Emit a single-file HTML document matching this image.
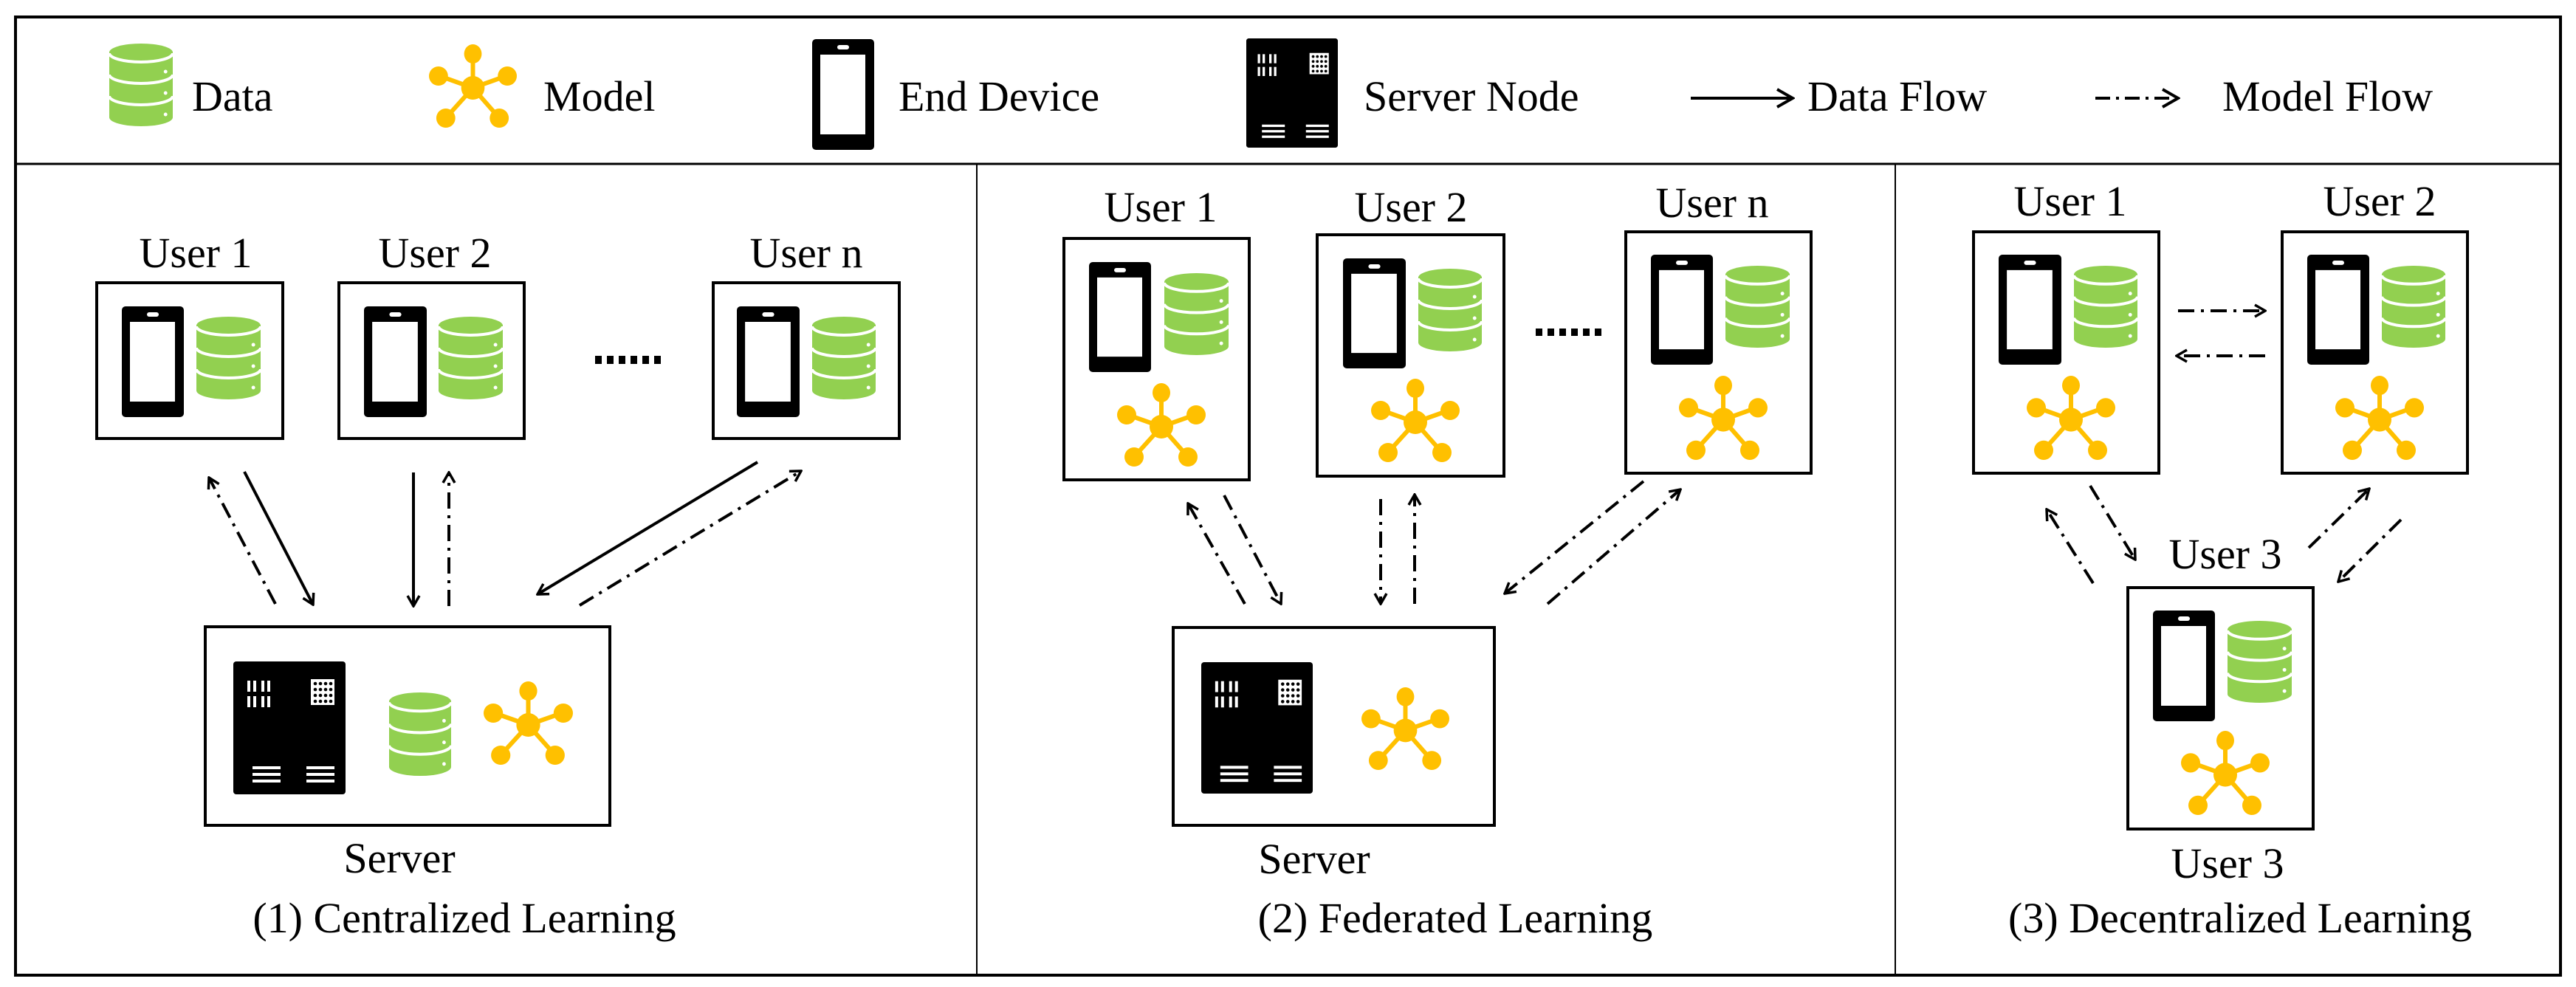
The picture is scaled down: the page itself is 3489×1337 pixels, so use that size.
<!DOCTYPE html>
<html><head><meta charset="utf-8"><style>
html,body{margin:0;padding:0;background:#fff}
svg{display:block}
svg text{font-family:"Liberation Serif","Times New Roman",serif !important;font-size:58px;fill:#000}
</style></head><body>
<svg width="3489" height="1337" viewBox="0 0 3489 1337" xmlns="http://www.w3.org/2000/svg" font-family="Liberation Serif, Times New Roman, serif">
<defs>
<symbol id="phone" viewBox="0 0 84 150" preserveAspectRatio="none">
<rect x="0" y="0" width="84" height="150" rx="5" fill="#000"/>
<rect x="11" y="21" width="61" height="108" fill="#fff"/>
<rect x="34" y="8" width="16" height="6" rx="3" fill="#fff"/>
</symbol>
<symbol id="db" viewBox="0 0 88 112" preserveAspectRatio="none">
<path d="M0 12 A44 12 0 0 1 88 12 L88 100 A44 12 0 0 1 0 100 Z" fill="#92D050"/>
<path d="M0 13 A44 12 0 0 0 88 13 M0 42 A44 12 0 0 0 88 42 M0 71 A44 12 0 0 0 88 71" fill="none" stroke="#fff" stroke-width="4"/>
<circle cx="78" cy="38" r="2.5" fill="#fff"/><circle cx="78" cy="67" r="2.5" fill="#fff"/><circle cx="78" cy="96" r="2.5" fill="#fff"/>
</symbol>
<symbol id="model" viewBox="0 0 120 115" preserveAspectRatio="none">
<g stroke="#FFC000" stroke-width="6">
<line x1="60" y1="60" x2="60" y2="13"/><line x1="60" y1="60" x2="12" y2="43"/><line x1="60" y1="60" x2="108" y2="43"/>
<line x1="60" y1="60" x2="22" y2="102"/><line x1="60" y1="60" x2="97" y2="102"/></g>
<g fill="#FFC000">
<circle cx="60" cy="60" r="16"/>
<ellipse cx="60" cy="14" rx="12" ry="13"/><ellipse cx="13" cy="44" rx="13" ry="13"/><ellipse cx="107" cy="44" rx="13" ry="13"/>
<ellipse cx="23" cy="101" rx="13" ry="13"/><ellipse cx="96" cy="101" rx="13" ry="13"/></g>
</symbol>
<symbol id="server" viewBox="0 0 152 180" preserveAspectRatio="none">
<rect x="0" y="0" width="152" height="180" rx="4" fill="#000"/>
<g fill="#fff">
<rect x="19" y="26" width="4" height="15"/><rect x="27" y="26" width="4" height="15"/><rect x="38" y="26" width="4" height="15"/><rect x="46" y="26" width="4" height="15"/>
<rect x="19" y="47" width="4" height="15"/><rect x="27" y="47" width="4" height="15"/><rect x="38" y="47" width="4" height="15"/><rect x="46" y="47" width="4" height="15"/>
<rect x="105" y="24" width="32" height="35"/>
<rect x="26" y="142" width="38" height="4"/><rect x="26" y="151" width="38" height="4"/><rect x="26" y="160" width="38" height="4"/>
<rect x="99" y="142" width="38" height="4"/><rect x="99" y="151" width="38" height="4"/><rect x="99" y="160" width="38" height="4"/>
</g>
<g fill="#000">
<circle cx="111" cy="30" r="2.3"/><circle cx="118" cy="30" r="2.3"/><circle cx="125" cy="30" r="2.3"/><circle cx="132" cy="30" r="2.3"/>
<circle cx="111" cy="38" r="2.3"/><circle cx="118" cy="38" r="2.3"/><circle cx="125" cy="38" r="2.3"/><circle cx="132" cy="38" r="2.3"/>
<circle cx="111" cy="46" r="2.3"/><circle cx="118" cy="46" r="2.3"/><circle cx="125" cy="46" r="2.3"/><circle cx="132" cy="46" r="2.3"/>
<circle cx="111" cy="54" r="2.3"/><circle cx="118" cy="54" r="2.3"/><circle cx="125" cy="54" r="2.3"/><circle cx="132" cy="54" r="2.3"/>
</g>
</symbol>
<marker id="ah" viewBox="0 0 20 20" refX="18" refY="10" markerWidth="20" markerHeight="20" markerUnits="userSpaceOnUse" orient="auto">
<path d="M4 2 L18 10 L4 18" fill="none" stroke="#000" stroke-width="3.5"/>
</marker>
<marker id="ahb" viewBox="0 0 30 30" refX="27" refY="15" markerWidth="30" markerHeight="30" markerUnits="userSpaceOnUse" orient="auto">
<path d="M6 3 L27 15 L6 27" fill="none" stroke="#000" stroke-width="4"/>
</marker>
</defs>

<rect x="21" y="23" width="3447" height="1298" fill="none" stroke="#000" stroke-width="4"/>
<line x1="21" y1="222" x2="3468" y2="222" stroke="#000" stroke-width="3"/>
<line x1="1323" y1="222" x2="1323" y2="1321" stroke="#000" stroke-width="2"/>
<line x1="2567" y1="222" x2="2567" y2="1321" stroke="#000" stroke-width="2"/>

<g font-family="Liberation Serif, Times New Roman, serif">
<use href="#db" x="148" y="59" width="86" height="112"/>
<text x="260" y="150" font-family="Liberation Serif, serif">Data</text>
<use href="#model" x="581" y="59" width="119" height="115"/>
<text x="736" y="150" font-family="Liberation Serif, serif">Model</text>
<use href="#phone" x="1100" y="53" width="84" height="150"/>
<text x="1217" y="150" font-family="Liberation Serif, serif">End Device</text>
<use href="#server" x="1688" y="52" width="124" height="148"/>
<text x="1847" y="150" font-family="Liberation Serif, serif">Server Node</text>
<line x1="2290" y1="133" x2="2428" y2="133" stroke="#000" stroke-width="4" marker-end="url(#ahb)"/>
<text x="2448" y="150" font-family="Liberation Serif, serif">Data Flow</text>
<line x1="2838" y1="133" x2="2950" y2="133" stroke="#000" stroke-width="4" stroke-dasharray="20 8 4 8" marker-end="url(#ahb)"/>
<text x="3010" y="150" font-family="Liberation Serif, serif">Model Flow</text>
</g>

<g fill="none" stroke="#000" stroke-width="4">
<rect x="131" y="383" width="252" height="211"/>
<rect x="459" y="383" width="251" height="211"/>
<rect x="966" y="383" width="252" height="211"/>
<rect x="278" y="849" width="548" height="269"/>
<rect x="1441" y="323" width="251" height="327"/>
<rect x="1784" y="318" width="253" height="327"/>
<rect x="2202" y="314" width="251" height="327"/>
<rect x="1589" y="850" width="435" height="268"/>
<rect x="2673" y="314" width="251" height="327"/>
<rect x="3091" y="314" width="251" height="327"/>
<rect x="2882" y="796" width="251" height="327"/>
</g>

<use href="#phone" x="165" y="415" width="84" height="150"/>
<use href="#db" x="266" y="429" width="87" height="112"/>
<use href="#phone" x="493" y="415" width="85" height="150"/>
<use href="#db" x="594" y="429" width="87" height="112"/>
<use href="#phone" x="998" y="415" width="85" height="150"/>
<use href="#db" x="1100" y="429" width="86" height="112"/>
<g fill="#000"><rect x="806" y="482" width="9" height="11"/><rect x="822" y="482" width="9" height="11"/><rect x="838" y="482" width="9" height="11"/><rect x="854" y="482" width="9" height="11"/><rect x="870" y="482" width="9" height="11"/><rect x="886" y="482" width="9" height="11"/></g>
<use href="#server" x="316" y="896" width="152" height="180"/>
<use href="#db" x="527" y="938" width="84" height="113"/>
<use href="#model" x="655" y="922" width="121" height="115"/>
<text x="265" y="362" text-anchor="middle" font-size="56" font-family="Liberation Serif, serif">User 1</text>
<text x="589" y="362" text-anchor="middle" font-size="56" font-family="Liberation Serif, serif">User 2</text>
<text x="1092" y="362" text-anchor="middle" font-size="56" font-family="Liberation Serif, serif">User n</text>
<text x="541" y="1182" text-anchor="middle" font-family="Liberation Serif, serif">Server</text>
<text x="629" y="1263" text-anchor="middle" font-family="Liberation Serif, serif">(1) Centralized Learning</text>

<g fill="none" stroke="#000" stroke-width="4">
<line x1="373" y1="818" x2="283" y2="647" stroke-dasharray="22 9 4 9" marker-end="url(#ah)"/>
<line x1="331" y1="639" x2="424" y2="819" marker-end="url(#ah)"/>
<line x1="560" y1="640" x2="560" y2="821" marker-end="url(#ah)"/>
<line x1="608" y1="821" x2="608" y2="640" stroke-dasharray="22 9 4 9" marker-end="url(#ah)"/>
<line x1="1026" y1="626" x2="728" y2="805" marker-end="url(#ah)"/>
<line x1="785" y1="820" x2="1085" y2="638" stroke-dasharray="22 9 4 9" marker-end="url(#ah)"/>
</g>

<use href="#phone" x="1475" y="355" width="84" height="149"/>
<use href="#db" x="1577" y="370" width="87" height="111"/>
<use href="#model" x="1513" y="518" width="120" height="115"/>
<use href="#phone" x="1819" y="350" width="85" height="149"/>
<use href="#db" x="1921" y="364" width="86" height="112"/>
<use href="#model" x="1857" y="512" width="120" height="115"/>
<use href="#phone" x="2236" y="345" width="84" height="149"/>
<use href="#db" x="2337" y="360" width="87" height="111"/>
<use href="#model" x="2274" y="508" width="120" height="116"/>
<g fill="#000"><rect x="2080" y="445" width="9" height="10"/><rect x="2096" y="445" width="9" height="10"/><rect x="2112" y="445" width="9" height="10"/><rect x="2128" y="445" width="9" height="10"/><rect x="2144" y="445" width="9" height="10"/><rect x="2160" y="445" width="9" height="10"/></g>
<use href="#server" x="1627" y="897" width="151" height="178"/>
<use href="#model" x="1844" y="930" width="119" height="114"/>
<text x="1572" y="300" text-anchor="middle" font-size="56" font-family="Liberation Serif, serif">User 1</text>
<text x="1911" y="300" text-anchor="middle" font-size="56" font-family="Liberation Serif, serif">User 2</text>
<text x="2319" y="294" text-anchor="middle" font-size="56" font-family="Liberation Serif, serif">User n</text>
<text x="1780" y="1183" text-anchor="middle" font-family="Liberation Serif, serif">Server</text>
<text x="1971" y="1263" text-anchor="middle" font-family="Liberation Serif, serif">(2) Federated Learning</text>

<g fill="none" stroke="#000" stroke-width="4" stroke-dasharray="22 9 4 9">
<line x1="1686" y1="818" x2="1609" y2="682" marker-end="url(#ah)"/>
<line x1="1658" y1="671" x2="1735" y2="818" marker-end="url(#ah)"/>
<line x1="1870" y1="676" x2="1870" y2="818" marker-end="url(#ah)"/>
<line x1="1916" y1="818" x2="1916" y2="670" marker-end="url(#ah)"/>
<line x1="2226" y1="652" x2="2038" y2="804" marker-end="url(#ah)"/>
<line x1="2096" y1="818" x2="2276" y2="663" marker-end="url(#ah)"/>
</g>

<use href="#phone" x="2707" y="345" width="85" height="149"/>
<use href="#db" x="2809" y="360" width="86" height="111"/>
<use href="#model" x="2745" y="508" width="120" height="116"/>
<use href="#phone" x="3125" y="345" width="84" height="149"/>
<use href="#db" x="3226" y="360" width="86" height="111"/>
<use href="#model" x="3163" y="508" width="120" height="116"/>
<use href="#phone" x="2916" y="827" width="84" height="150"/>
<use href="#db" x="3017" y="841" width="87" height="111"/>
<use href="#model" x="2954" y="989" width="120" height="116"/>
<text x="2804" y="292" text-anchor="middle" font-size="56" font-family="Liberation Serif, serif">User 1</text>
<text x="3223" y="292" text-anchor="middle" font-size="56" font-family="Liberation Serif, serif">User 2</text>
<text x="3014" y="770" text-anchor="middle" font-size="56" font-family="Liberation Serif, serif">User 3</text>
<text x="3017" y="1189" text-anchor="middle" font-size="56" font-family="Liberation Serif, serif">User 3</text>
<text x="3034" y="1263" text-anchor="middle" font-family="Liberation Serif, serif">(3) Decentralized Learning</text>

<g fill="none" stroke="#000" stroke-width="4" stroke-dasharray="22 9 4 9">
<line x1="2950" y1="421" x2="3068" y2="421" marker-end="url(#ah)"/>
<line x1="3068" y1="482" x2="2948" y2="482" marker-end="url(#ah)"/>
<line x1="2835" y1="790" x2="2772" y2="690" marker-end="url(#ah)"/>
<line x1="2831" y1="658" x2="2892" y2="758" marker-end="url(#ah)"/>
<line x1="3127" y1="742" x2="3209" y2="662" marker-end="url(#ah)"/>
<line x1="3252" y1="704" x2="3167" y2="788" marker-end="url(#ah)"/>
</g>
</svg>
</body></html>
